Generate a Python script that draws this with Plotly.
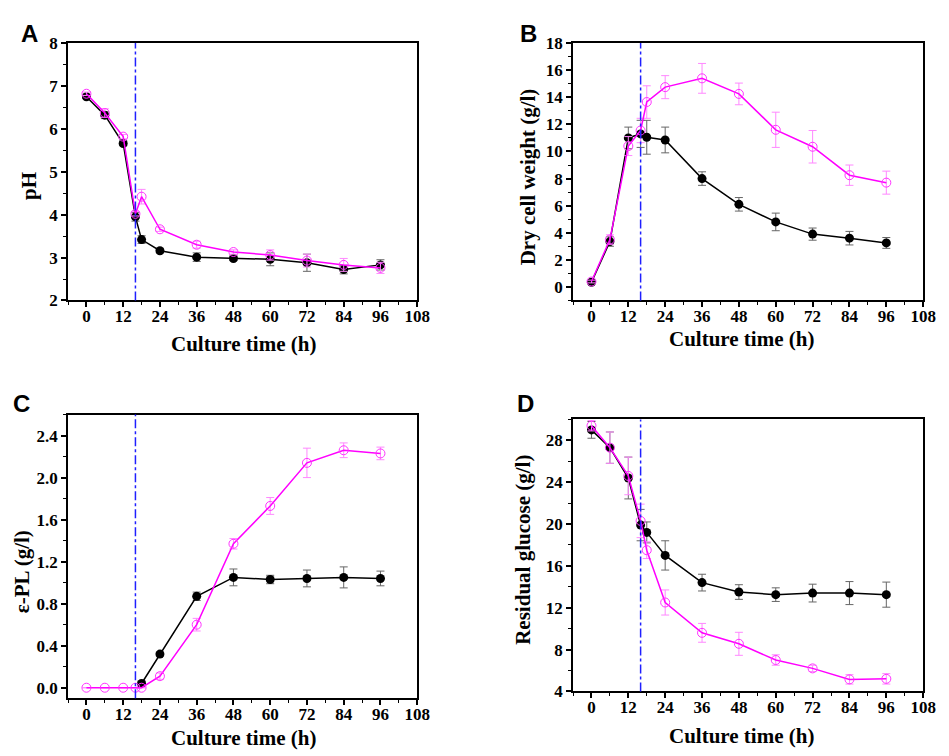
import plotly.graph_objects as go

# sampling times (h)
time_h = [0, 6, 12, 16, 18, 24, 36, 48, 60, 72, 84, 96]
time_pl_black = [18, 24, 36, 48, 60, 72, 84, 96]

# A - pH
ph_black = [6.75, 6.32, 5.66, 3.95, 3.42, 3.16, 3.01, 2.98, 2.96, 2.88, 2.72, 2.83]
ph_black_err = [0.04, 0.08, 0.05, 0.10, 0.09, 0.05, 0.10, 0.05, 0.15, 0.20, 0.10, 0.12]
ph_pink = [6.82, 6.37, 5.82, 4.02, 4.42, 3.66, 3.30, 3.13, 3.06, 2.93, 2.83, 2.76]
ph_pink_err = [0.04, 0.10, 0.05, 0.05, 0.17, 0.05, 0.08, 0.05, 0.12, 0.15, 0.15, 0.13]

# B - dry cell weight
dcw_black = [0.35, 3.35, 11.0, 11.3, 11.05, 10.85, 8.0, 6.1, 4.8, 3.9, 3.6, 3.25]
dcw_black_err = [0.1, 0.35, 0.8, 1.0, 1.25, 0.95, 0.5, 0.5, 0.65, 0.45, 0.5, 0.4]
dcw_pink = [0.4, 3.5, 10.4, 11.55, 13.65, 14.75, 15.4, 14.25, 11.6, 10.35, 8.25, 7.7]
dcw_pink_err = [0.1, 0.35, 0.7, 0.9, 1.2, 0.85, 1.1, 0.8, 1.3, 1.2, 0.75, 0.85]

# C - e-PL
pl_black = [0.04, 0.32, 0.87, 1.05, 1.03, 1.04, 1.05, 1.04]
pl_black_err = [0.02, 0.02, 0.04, 0.08, 0.04, 0.08, 0.10, 0.07]
pl_pink = [0, 0, 0, 0, 0, 0.11, 0.60, 1.37, 1.73, 2.14, 2.26, 2.23]
pl_pink_err = [0, 0, 0, 0, 0, 0.03, 0.06, 0.05, 0.08, 0.14, 0.07, 0.06]

# D - residual glucose
glc_black = [29.0, 27.3, 24.4, 19.9, 19.2, 17.0, 14.4, 13.5, 13.25, 13.4, 13.4, 13.25]
glc_black_err = [0.8, 1.5, 2.0, 1.5, 1.0, 1.4, 0.8, 0.7, 0.65, 0.85, 1.1, 1.2]
glc_pink = [29.4, 27.3, 24.6, 20.3, 17.5, 12.5, 9.6, 8.55, 7.0, 6.2, 5.15, 5.2]
glc_pink_err = [0.5, 1.5, 1.8, 1.6, 0.8, 1.2, 0.9, 1.1, 0.5, 0.3, 0.45, 0.5]

x_ticks = [0, 12, 24, 36, 48, 60, 72, 84, 96, 108]
switch_time = 16

SERIF = 'Liberation Serif'
W, H = 949, 756


def px_x(v):
    return v / W


def px_y(v):
    return 1 - v / H


panels = [
    dict(letter='A', xb=time_h, yb=ph_black, eb=ph_black_err, yp=ph_pink, ep=ph_pink_err,
         title='pH', yr=[2, 8], dt=1, mdt=0.5, box=(69, 423, 35, 299), lpos=(30, 25),
         ytpos=(30, 182), xtpos=(247, 344), fmt=None),
    dict(letter='B', xb=time_h, yb=dcw_black, eb=dcw_black_err, yp=dcw_pink, ep=dcw_pink_err,
         title='Dry cell weight (g/l)', yr=[-1, 18], dt=2, mdt=1, box=(581, 936, 35, 299),
         lpos=(536, 25), ytpos=(535, 172), xtpos=(752, 339), fmt=None),
    dict(letter='C', xb=time_pl_black, yb=pl_black, eb=pl_black_err, yp=pl_pink, ep=pl_pink_err,
         title='ε-PL (g/l)', yr=[-0.1, 2.6], dt=0.4, mdt=0.2, box=(69, 423, 416, 707),
         lpos=(22, 405), ytpos=(23, 577), xtpos=(247, 748), fmt='.1f'),
    dict(letter='D', xb=time_h, yb=glc_black, eb=glc_black_err, yp=glc_pink, ep=glc_pink_err,
         title='Residual glucose (g/l)', yr=[4, 30], dt=4, mdt=2, box=(581, 936, 421, 700),
         lpos=(533, 405), ytpos=(530, 555), xtpos=(752, 746), fmt=None),
]

fig = go.Figure()
title_font = dict(family=SERIF, size=21, color='black', weight='bold')

for i, p in enumerate(panels):
    n = '' if i == 0 else str(i + 1)
    xa, ya = 'x' + n, 'y' + n
    l, r, t, b = p['box']

    fig.add_trace(go.Scatter(
        x=p['xb'], y=p['yb'], xaxis=xa, yaxis=ya, mode='lines+markers',
        line=dict(color='black', width=1.5),
        marker=dict(symbol='circle', size=9, color='black'),
        error_y=dict(type='data', array=p['eb'], color='#666666', thickness=1, width=4),
        showlegend=False))
    fig.add_trace(go.Scatter(
        x=time_h, y=p['yp'], xaxis=xa, yaxis=ya, mode='lines+markers',
        line=dict(color='#ff00ff', width=1.5),
        marker=dict(symbol='circle-open', size=9, color='#ff33ff', line=dict(width=1)),
        error_y=dict(type='data', array=p['ep'], color='#ff88ff', thickness=1, width=4),
        showlegend=False))

    # dash-dot line at the switch time
    fig.add_shape(type='line', xref=xa, yref=ya + ' domain', x0=switch_time, x1=switch_time,
                  y0=0, y1=1, line=dict(color='#1f1fff', width=1.5, dash='dashdot'))

    axis_common = dict(showline=True, linecolor='black', linewidth=2, mirror=True,
                       ticks='outside', ticklen=5, tickwidth=1.5, tickcolor='black',
                       showgrid=False, zeroline=False,
                       tickfont=dict(family=SERIF, size=17, color='black', weight='bold'))

    fig.layout['xaxis' + n] = dict(
        axis_common, domain=[px_x(l), px_x(r)], anchor=ya, range=[-6, 108], tickvals=x_ticks,
        ticklabelstandoff=-6,
        minor=dict(ticklen=3, dtick=6, tick0=0, tickcolor='black', ticks='outside', tickwidth=1))
    fig.layout['yaxis' + n] = dict(
        axis_common, domain=[px_y(b), px_y(t)], anchor=xa, range=p['yr'], dtick=p['dt'], tick0=0,
        tickformat=p['fmt'],
        minor=dict(ticklen=3, dtick=p['mdt'], tick0=0, tickcolor='black', ticks='outside', tickwidth=1))

    # axis titles as annotations so they sit where the original has them
    fig.add_annotation(text='Culture time (h)', xref='paper', yref='paper',
                       x=px_x(p['xtpos'][0]), y=px_y(p['xtpos'][1]),
                       xanchor='center', yanchor='middle', showarrow=False, font=title_font)
    fig.add_annotation(text=p['title'], xref='paper', yref='paper', textangle=-90,
                       x=px_x(p['ytpos'][0]), y=px_y(p['ytpos'][1]),
                       xanchor='center', yanchor='middle', showarrow=False, font=title_font)

    fig.add_annotation(text='<b>' + p['letter'] + '</b>', xref='paper', yref='paper',
                       x=px_x(p['lpos'][0]), y=px_y(p['lpos'][1]),
                       xanchor='center', yanchor='middle', showarrow=False,
                       font=dict(family='Liberation Sans', size=24, color='black'))

fig.update_layout(width=W, height=H, margin=dict(l=0, r=0, t=0, b=0),
                  plot_bgcolor='white', paper_bgcolor='white')

# drop the browser's default body margin so the figure fills the window exactly
fig.write_html('out.html', config={'displayModeBar': False},
               post_script="document.body.style.margin='0';")
